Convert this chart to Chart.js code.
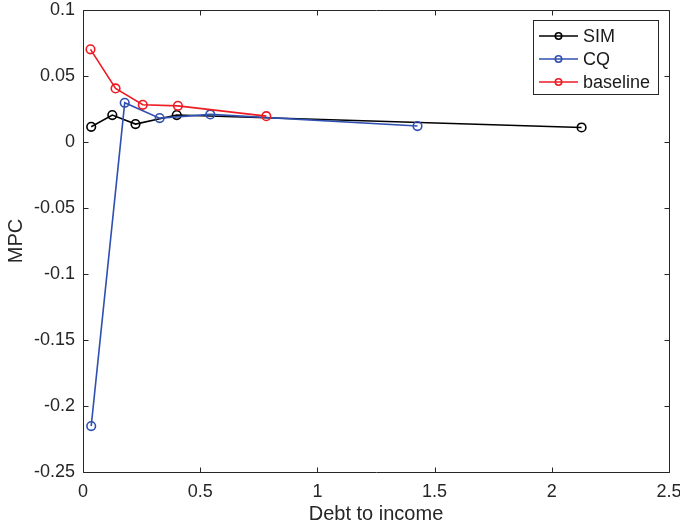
<!DOCTYPE html>
<html>
<head>
<meta charset="utf-8">
<script src="https://cdn.jsdelivr.net/npm/chart.js@4.4.1/dist/chart.umd.min.js"></script>
<style>
  html, body { margin: 0; padding: 0; background: #fff; }
  #wrap { width: 680px; height: 525px; }
</style>
</head>
<body>
<div id="wrap"><canvas id="c" width="680" height="525"></canvas></div>
<script>
// ---- data ----
const seriesNames = ['SIM', 'CQ', 'baseline'];
const seriesColors = ['#000000', '#3050b0', '#ec1c24'];
const simX = [0.035, 0.125, 0.224, 0.400, 2.127];
const simY = [0.0115, 0.0204, 0.0136, 0.0204, 0.0110];
const cqX = [0.035, 0.178, 0.327, 0.543, 1.427];
const cqY = [-0.2152, 0.0297, 0.0181, 0.0209, 0.0121];
const baseX = [0.032, 0.139, 0.255, 0.405, 0.782];
const baseY = [0.0702, 0.0406, 0.0282, 0.0274, 0.0196];
const xTicks = [0, 0.5, 1, 1.5, 2, 2.5];
const xTickLabels = ['0', '0.5', '1', '1.5', '2', '2.5'];
const yTicks = [-0.25, -0.2, -0.15, -0.1, -0.05, 0, 0.05, 0.1];
const yTickLabels = ['-0.25', '-0.2', '-0.15', '-0.1', '-0.05', '0', '0.05', '0.1'];
const xTitle = 'Debt to income';
const yTitle = 'MPC';

const FONT = "'Liberation Sans', Arial, Helvetica, sans-serif";
const AXIS_COLOR = '#262626';

function pts(xs, ys) { return xs.map((x, i) => ({ x: x, y: ys[i] })); }
const allX = [simX, cqX, baseX];
const allY = [simY, cqY, baseY];

const datasets = seriesNames.map((name, i) => ({
  label: name,
  data: pts(allX[i], allY[i]),
  showLine: true,
  borderColor: seriesColors[i],
  borderWidth: 1.6,
  pointRadius: 4.3,
  pointHoverRadius: 4.3,
  pointBorderWidth: 1.6,
  pointBackgroundColor: 'rgba(0,0,0,0)',
  pointBorderColor: seriesColors[i],
  order: seriesNames.length - i,
  tension: 0
}));

// box, inward ticks and legend
const matlabAxes = {
  id: 'matlabAxes',
  afterDatasetsDraw(chart) {
    const ctx = chart.ctx;
    const a = chart.chartArea;
    const xs = chart.scales.x, ys = chart.scales.y;
    const L = Math.round(a.left) + 0.5, R = Math.round(a.right) + 0.5;
    const T = Math.round(a.top) + 0.5, B = Math.round(a.bottom) + 0.5;
    ctx.save();
    ctx.strokeStyle = AXIS_COLOR;
    ctx.lineWidth = 1;
    ctx.beginPath();
    ctx.rect(L, T, R - L, B - T);
    ctx.stroke();
    const tl = 5;
    ctx.beginPath();
    xTicks.forEach(v => {
      const px = Math.round(xs.getPixelForValue(v)) + 0.5;
      ctx.moveTo(px, B); ctx.lineTo(px, B - tl);
      ctx.moveTo(px, T); ctx.lineTo(px, T + tl);
    });
    yTicks.forEach(v => {
      const py = Math.round(ys.getPixelForValue(v)) + 0.5;
      ctx.moveTo(L, py); ctx.lineTo(L + tl, py);
      ctx.moveTo(R, py); ctx.lineTo(R - tl, py);
    });
    ctx.stroke();

    // legend
    const lx = 533.5, ly = 20.5, lw = 125, lh = 74;
    ctx.fillStyle = '#ffffff';
    ctx.fillRect(lx, ly, lw, lh);
    ctx.strokeStyle = AXIS_COLOR;
    ctx.strokeRect(lx, ly, lw, lh);
    ctx.font = '18px ' + FONT;
    ctx.textBaseline = 'middle';
    ctx.textAlign = 'left';
    chart.data.datasets.forEach((ds, i) => {
      const y = 36 + i * 23;
      ctx.strokeStyle = ds.borderColor;
      ctx.lineWidth = 1.6;
      ctx.beginPath();
      ctx.moveTo(539, y); ctx.lineTo(578, y);
      ctx.stroke();
      ctx.beginPath();
      ctx.arc(558.5, y, 3.2, 0, Math.PI * 2);
      ctx.stroke();
      ctx.fillStyle = '#1a1a1a';
      ctx.fillText(ds.label, 583, y + 1);
    });
    ctx.restore();
  }
};

new Chart(document.getElementById('c'), {
  type: 'scatter',
  data: { datasets: datasets },
  options: {
    responsive: false,
    animation: false,
    devicePixelRatio: 1,
    layout: { padding: { left: 0, right: 11, top: 10, bottom: 0 } },
    plugins: { legend: { display: false }, tooltip: { enabled: false } },
    scales: {
      x: {
        type: 'linear',
        min: xTicks[0], max: xTicks[xTicks.length - 1],
        afterBuildTicks: s => { s.ticks = xTicks.map(v => ({ value: v })); },
        afterFit: s => { s.height = 53; s.paddingLeft = 0; s.paddingRight = 0; },
        grid: { display: false, drawTicks: false },
        border: { display: false },
        ticks: {
          padding: 9,
          color: AXIS_COLOR,
          font: { family: FONT, size: 18 },
          maxRotation: 0,
          autoSkip: false,
          callback: (v) => { const k = xTicks.indexOf(v); return k >= 0 ? xTickLabels[k] : ''; }
        },
        title: {
          display: true, text: xTitle, color: AXIS_COLOR,
          font: { family: FONT, size: 20 }, padding: { top: 0, bottom: -1 }
        }
      },
      y: {
        type: 'linear',
        min: yTicks[0], max: yTicks[yTicks.length - 1],
        afterBuildTicks: s => { s.ticks = yTicks.map(v => ({ value: v })); },
        afterFit: s => { s.width = 83; s.paddingTop = 0; s.paddingBottom = 0; },
        grid: { display: false, drawTicks: false },
        border: { display: false },
        ticks: {
          padding: 8,
          color: AXIS_COLOR,
          font: { family: FONT, size: 18 },
          autoSkip: false,
          callback: (v) => { const k = yTicks.findIndex(t => Math.abs(t - v) < 1e-9); return k >= 0 ? yTickLabels[k] : ''; }
        },
        title: {
          display: true, text: yTitle, color: AXIS_COLOR,
          font: { family: FONT, size: 20 }, padding: { top: 4, bottom: 0 }
        }
      }
    }
  },
  plugins: [matlabAxes]
});
</script>
</body>
</html>
